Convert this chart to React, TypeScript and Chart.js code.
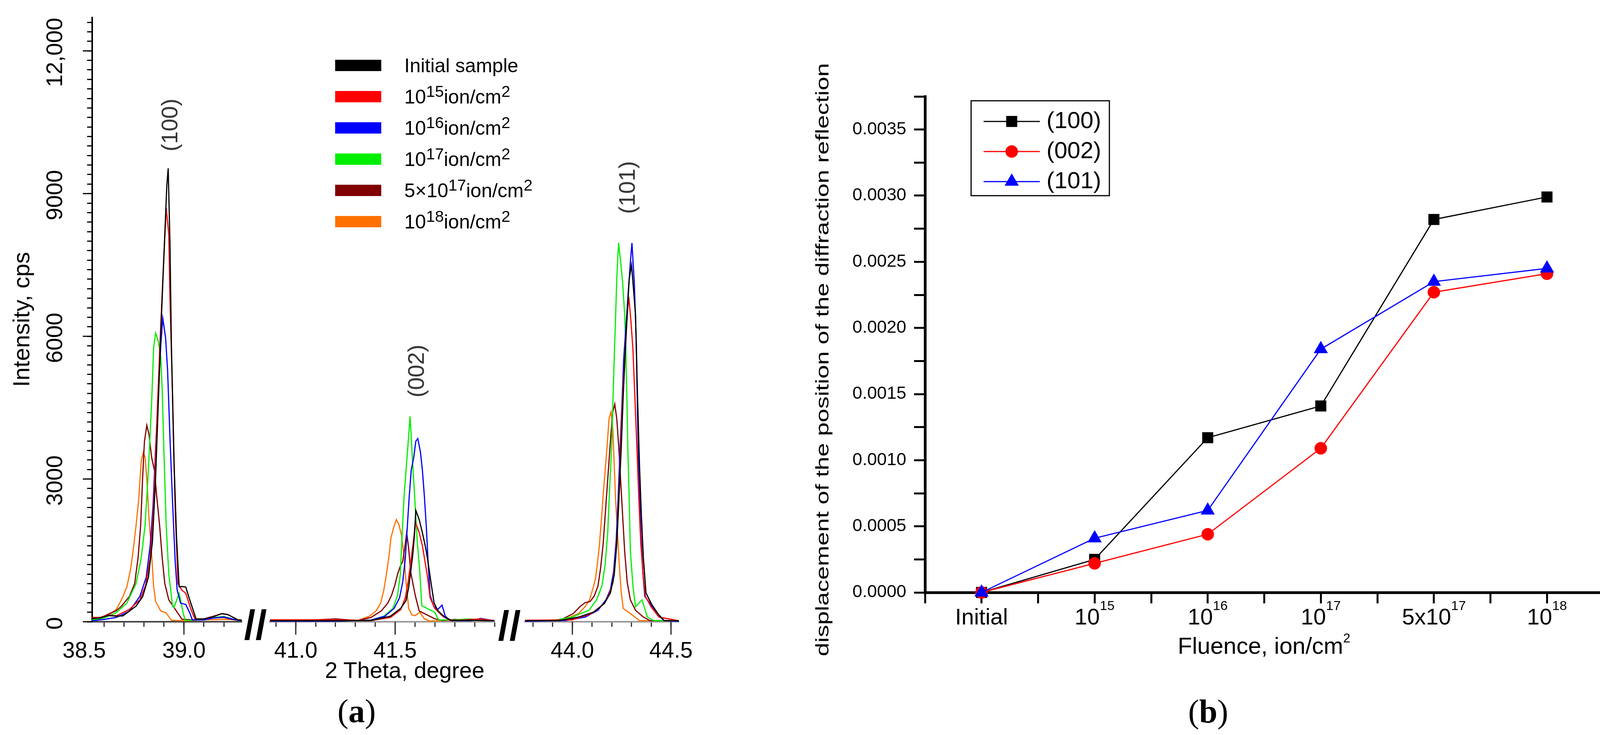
import { useEffect, useRef } from 'react'
import { Chart, registerables } from 'chart.js'
import type { ChartConfiguration, Plugin } from 'chart.js'

Chart.register(...registerables)

const SANS = '"Liberation Sans", Arial, sans-serif'
const SERIF = '"Liberation Serif", "Times New Roman", serif'

// ---------- (a) XRD patterns ----------
const SAMPLES = ['Initial sample', '10^15ion/cm^2', '10^16ion/cm^2', '10^17ion/cm^2', '5×10^17ion/cm^2', '10^18ion/cm^2']
const SAMPLE_COLORS = ['#000000', '#ff0000', '#0000ff', '#00ee00', '#800000', '#ff7000']

type Pt = [number, number]

// (100) reflection, 2θ 38.54 … 39.29
const XRD100_INITIAL: Pt[] = [[38.54, 70], [38.58, 80], [38.62, 130], [38.66, 120], [38.694, 123], [38.76, 328], [38.793, 527], [38.822, 937], [38.842, 1684], [38.858, 3044], [38.875, 5016], [38.888, 6508], [38.904, 8140], [38.914, 9164], [38.921, 9530], [38.93, 7938], [38.937, 5830], [38.95, 3385], [38.963, 1754], [38.976, 733], [38.99, 740], [39.009, 730], [39.029, 461], [39.061, 57], [39.1, 60], [39.15, 110], [39.19, 170], [39.22, 150], [39.27, 40], [39.29, 30]]
const XRD100_F15: Pt[] = [[38.54, 90], [38.58, 90], [38.62, 140], [38.66, 123], [38.726, 257], [38.779, 461], [38.808, 770], [38.831, 1344], [38.848, 2434], [38.864, 4200], [38.881, 5967], [38.897, 7462], [38.911, 8700], [38.924, 8140], [38.93, 6784], [38.943, 4745], [38.956, 2364], [38.97, 800], [38.99, 662], [39.009, 600], [39.035, 262], [39.055, 57], [39.1, 60], [39.15, 120], [39.19, 170], [39.22, 150], [39.27, 40], [39.29, 30]]
const XRD100_F16: Pt[] = [[38.54, 20], [38.6, 50], [38.66, 90], [38.726, 220], [38.779, 533], [38.811, 937], [38.831, 1616], [38.845, 2434], [38.858, 3656], [38.871, 4745], [38.884, 5830], [38.894, 6375], [38.908, 5967], [38.918, 5287], [38.93, 3861], [38.943, 2500], [38.956, 1279], [38.966, 664], [38.983, 393], [39.009, 361], [39.029, 189], [39.042, 40], [39.1, 40], [39.15, 80], [39.2, 100], [39.25, 50], [39.29, 20]]
const XRD100_F17: Pt[] = [[38.54, 40], [38.6, 80], [38.66, 189], [38.714, 393], [38.76, 803], [38.786, 1344], [38.805, 2025], [38.818, 2910], [38.828, 3724], [38.838, 4610], [38.848, 5762], [38.858, 6068], [38.871, 5900], [38.884, 5559], [38.891, 4879], [38.901, 3385], [38.911, 2025], [38.924, 1008], [38.943, 328], [38.95, 300], [38.976, 600], [38.996, 189], [39.006, 30], [39.1, 40], [39.15, 90], [39.2, 110], [39.25, 50], [39.29, 20]]
const XRD100_F5E17: Pt[] = [[38.54, 60], [38.58, 80], [38.62, 160], [38.66, 230], [38.687, 328], [38.727, 533], [38.753, 803], [38.77, 1344], [38.783, 2025], [38.793, 3044], [38.802, 3792], [38.814, 4130], [38.825, 3929], [38.838, 3453], [38.852, 3181], [38.865, 2568], [38.878, 2025], [38.891, 1344], [38.904, 803], [38.924, 461], [38.957, 257], [38.99, 53], [39.05, 40], [39.1, 60], [39.15, 80], [39.2, 90], [39.25, 40], [39.29, 20]]
const XRD100_F18: Pt[] = [[38.54, 40], [38.58, 60], [38.62, 130], [38.66, 257], [38.687, 461], [38.714, 733], [38.734, 1140], [38.747, 1550], [38.76, 2025], [38.773, 2568], [38.786, 3385], [38.796, 3553], [38.806, 3451], [38.816, 2840], [38.825, 2164], [38.835, 1616], [38.848, 733], [38.858, 426], [38.884, 224], [38.91, 189], [38.937, 30], [39.0, 20], [39.1, 40], [39.2, 50], [39.29, 40]]

// (002) reflection, 2θ 40.87 … 42.0
const XRD002_INITIAL: Pt[] = [[40.87, 20], [41.2, 20], [41.378, 25], [41.476, 117], [41.528, 282], [41.555, 447], [41.568, 721], [41.578, 1050], [41.588, 1380], [41.597, 1820], [41.604, 2340], [41.621, 2148], [41.637, 1874], [41.654, 1544], [41.667, 1215], [41.68, 831], [41.696, 392], [41.716, 227], [41.752, 90], [41.785, 25], [41.9, 30], [42.0, 20]]
const XRD002_F15: Pt[] = [[40.87, 40], [41.2, 40], [41.378, 25], [41.476, 90], [41.528, 254], [41.551, 502], [41.565, 831], [41.574, 1105], [41.584, 1435], [41.594, 1764], [41.602, 2093], [41.621, 1874], [41.637, 1599], [41.65, 1270], [41.663, 941], [41.676, 502], [41.699, 282], [41.739, 117], [41.778, 25], [41.85, 40], [41.93, 60], [42.0, 20]]
const XRD002_F16: Pt[] = [[40.87, 10], [41.2, 10], [41.378, 35], [41.449, 117], [41.495, 282], [41.522, 502], [41.538, 831], [41.551, 1328], [41.561, 1984], [41.571, 2643], [41.581, 3190], [41.594, 3467], [41.604, 3795], [41.614, 3850], [41.627, 3575], [41.637, 3190], [41.647, 2643], [41.657, 1984], [41.667, 1160], [41.676, 557], [41.693, 337], [41.713, 254], [41.736, 348], [41.752, 117], [41.778, 25], [41.88, 20], [41.93, 70], [42.0, 20]]
const XRD002_F17: Pt[] = [[40.87, 10], [41.2, 10], [41.378, 35], [41.444, 117], [41.489, 282], [41.512, 557], [41.526, 996], [41.535, 1820], [41.545, 2643], [41.555, 3190], [41.565, 3740], [41.575, 4317], [41.588, 3356], [41.601, 2423], [41.611, 1709], [41.624, 1050], [41.634, 337], [41.673, 254], [41.699, 200], [41.719, 35], [41.8, 40], [41.87, 60], [41.95, 40], [42.0, 20]]
const XRD002_F5E17: Pt[] = [[40.87, 40], [41.1, 40], [41.2, 60], [41.312, 25], [41.378, 90], [41.43, 227], [41.463, 392], [41.482, 557], [41.499, 776], [41.512, 996], [41.525, 1160], [41.538, 1270], [41.548, 1544], [41.558, 1874], [41.568, 1544], [41.578, 1050], [41.588, 831], [41.601, 557], [41.621, 227], [41.66, 145], [41.699, 62], [41.739, 25], [41.8, 50], [41.9, 30], [42.0, 20]]
const XRD002_F18: Pt[] = [[40.87, 30], [41.1, 30], [41.318, 35], [41.371, 117], [41.404, 227], [41.427, 392], [41.443, 666], [41.456, 996], [41.469, 1380], [41.479, 1764], [41.493, 1984], [41.506, 2148], [41.519, 2040], [41.532, 1820], [41.545, 1380], [41.555, 831], [41.568, 282], [41.584, 145], [41.601, 128], [41.624, 200], [41.647, 62], [41.673, 15], [41.8, 30], [42.0, 30]]

// (101) reflection, 2θ 43.76 … 44.54
const XRD101_INITIAL: Pt[] = [[43.76, 20], [43.934, 25], [44.032, 98], [44.11, 205], [44.163, 388], [44.193, 607], [44.212, 976], [44.225, 1631], [44.236, 2584], [44.248, 3682], [44.258, 4780], [44.268, 5657], [44.278, 6463], [44.288, 7197], [44.3, 7500], [44.32, 6463], [44.33, 4780], [44.34, 3316], [44.35, 2219], [44.36, 1339], [44.373, 607], [44.399, 388], [44.433, 172], [44.465, 25], [44.54, 20]]
const XRD101_F15: Pt[] = [[43.76, 30], [43.999, 40], [44.097, 172], [44.163, 388], [44.189, 607], [44.206, 828], [44.219, 1339], [44.229, 2000], [44.239, 2951], [44.248, 4049], [44.258, 5000], [44.268, 5730], [44.278, 6463], [44.286, 6828], [44.297, 6316], [44.307, 5730], [44.317, 4706], [44.327, 3682], [44.337, 2584], [44.347, 1631], [44.36, 902], [44.37, 534], [44.399, 315], [44.439, 98], [44.54, 20]]
const XRD101_F16: Pt[] = [[43.76, 10], [43.966, 25], [44.065, 98], [44.13, 242], [44.17, 461], [44.193, 680], [44.209, 1049], [44.222, 1705], [44.232, 2584], [44.242, 3682], [44.252, 4633], [44.26, 5511], [44.271, 6172], [44.284, 6976], [44.294, 7561], [44.302, 7963], [44.314, 7123], [44.324, 5877], [44.33, 4413], [44.337, 3098], [44.347, 1852], [44.357, 1049], [44.367, 534], [44.393, 388], [44.426, 172], [44.465, 25], [44.54, 10]]
const XRD101_F17: Pt[] = [[43.76, 20], [43.9, 25], [43.999, 98], [44.084, 242], [44.123, 461], [44.15, 754], [44.166, 1193], [44.179, 1852], [44.189, 2803], [44.199, 3682], [44.205, 4560], [44.212, 5511], [44.219, 6390], [44.225, 7197], [44.234, 7963], [44.245, 7561], [44.255, 7123], [44.265, 6463], [44.271, 5730], [44.276, 4780], [44.281, 3682], [44.288, 2584], [44.294, 1486], [44.307, 754], [44.32, 315], [44.353, 461], [44.38, 98], [44.412, 25], [44.54, 20]]
const XRD101_F5E17: Pt[] = [[43.76, 20], [43.934, 25], [44.005, 172], [44.038, 315], [44.064, 400], [44.09, 426], [44.11, 534], [44.13, 754], [44.143, 1123], [44.156, 1631], [44.166, 2219], [44.176, 2803], [44.186, 3389], [44.196, 3975], [44.205, 4413], [44.215, 4574], [44.225, 4271], [44.235, 3682], [44.245, 2951], [44.255, 2219], [44.265, 1486], [44.278, 828], [44.294, 461], [44.32, 242], [44.36, 98], [44.393, 25], [44.54, 20]]
const XRD101_F18: Pt[] = [[43.76, 25], [43.87, 25], [43.966, 60], [44.032, 172], [44.064, 315], [44.087, 461], [44.103, 680], [44.117, 902], [44.126, 1193], [44.136, 1559], [44.146, 2073], [44.156, 2656], [44.166, 3172], [44.176, 3682], [44.186, 4271], [44.196, 4413], [44.205, 4049], [44.212, 3316], [44.219, 2584], [44.229, 1852], [44.239, 1123], [44.248, 607], [44.258, 279], [44.294, 172], [44.34, 25], [44.54, 20]]

const XRD100 = [XRD100_INITIAL, XRD100_F15, XRD100_F16, XRD100_F17, XRD100_F5E17, XRD100_F18]
const XRD002 = [XRD002_INITIAL, XRD002_F15, XRD002_F16, XRD002_F17, XRD002_F5E17, XRD002_F18]
const XRD101 = [XRD101_INITIAL, XRD101_F15, XRD101_F16, XRD101_F17, XRD101_F5E17, XRD101_F18]

const SEGMENT_RANGES: [number, number][] = [[38.54, 39.29], [40.87, 42.0], [43.76, 44.54]]
const SEGMENT_TICK_LABELS = [[38.5, 39.0], [41.0, 41.5], [44.0, 44.5]]
const SEGMENT_DATA = [XRD100, XRD002, XRD101]
const INTENSITY_TICKS = [0, 3000, 6000, 9000, 12000]
const INTENSITY_TICK_TEXT = ['0', '3000', '6000', '9000', '12,000']

// ---------- (b) peak shift vs fluence ----------
const FLUENCE = ['Initial', '10^15', '10^16', '10^17', '5x10^17', '10^18']
const SHIFT_100 = [0, 0.00025, 0.00117, 0.00141, 0.00282, 0.00299]
const SHIFT_002 = [0, 0.00022, 0.00044, 0.00109, 0.00227, 0.00241]
const SHIFT_101 = [0, 0.00041, 0.00062, 0.00184, 0.00235, 0.00245]

// canvas boxes (page px)
const SEGMENT_BOXES = [
  { left: 0, width: 640, padL: 0, padR: 21 },
  { left: 660, width: 640, padL: 31, padR: 34 },
  { left: 1310, width: 520, padL: 34, padR: 92 },
]

function xrdText(seg: number): Plugin {
  return {
    id: 'xrdText' + seg,
    afterDraw(chart) {
      const { ctx, chartArea: a } = chart
      const xs = chart.scales.x
      ctx.save()
      ctx.fillStyle = '#000'
      ctx.strokeStyle = '#222'
      ctx.lineWidth = 3
      ctx.font = `57px ${SANS}`
      ctx.textAlign = 'center'
      ctx.textBaseline = 'middle'
      for (const v of SEGMENT_TICK_LABELS[seg]) {
        const px = xs.getPixelForValue(v)
        if (px >= a.left && px <= a.right + 1) {
          ctx.beginPath()
          ctx.moveTo(px, a.bottom)
          ctx.lineTo(px, a.bottom + 33)
          ctx.stroke()
        }
        ctx.fillText(v.toFixed(1), px, a.bottom + 76)
      }
      if (seg === 0) {
        const ys = chart.scales.y
        ctx.strokeStyle = '#000'
        ctx.font = `58px ${SANS}`
        INTENSITY_TICKS.forEach((v, i) => {
          const py = ys.getPixelForValue(v)
          ctx.beginPath()
          ctx.moveTo(a.left, py)
          ctx.lineTo(a.left - 24, py)
          ctx.stroke()
          ctx.save()
          ctx.translate(143, py + 4)
          ctx.rotate(-Math.PI / 2)
          ctx.fillText(INTENSITY_TICK_TEXT[i], 0, 0)
          ctx.restore()
        })
      }
      ctx.restore()
    },
  }
}

function xrdConfig(seg: number): ChartConfiguration {
  const [min, max] = SEGMENT_RANGES[seg]
  const box = SEGMENT_BOXES[seg]
  return {
    type: 'line',
    data: {
      datasets: SEGMENT_DATA[seg].map((pts, i) => ({
        label: SAMPLES[i],
        data: pts.map(([x, y]) => ({ x, y })),
        borderColor: SAMPLE_COLORS[i],
        borderWidth: 3,
        pointRadius: 0,
        fill: false,
        tension: 0,
      })),
    },
    options: {
      animation: false,
      responsive: true,
      maintainAspectRatio: false,
      events: [],
      layout: { padding: { top: 45, left: box.padL, right: box.padR, bottom: 0 } },
      plugins: { legend: { display: false }, tooltip: { enabled: false } },
      scales: {
        x: {
          type: 'linear',
          min,
          max,
          afterFit: (s: any) => {
            s.height = 168
          },
          border: { color: seg === 0 ? '#444' : '#999', width: 4 },
          grid: { drawOnChartArea: false, tickLength: 13, tickWidth: 3, tickColor: '#333' },
          ticks: { stepSize: 0.1, autoSkip: false, includeBounds: false, maxRotation: 0, callback: () => '' },
        },
        y: {
          display: seg === 0,
          min: 0,
          max: 12700,
          afterFit: (s: any) => {
            s.width = seg === 0 ? 236 : 0
          },
          border: { color: '#000', width: 4 },
          grid: { drawOnChartArea: false, tickLength: 13, tickWidth: 3, tickColor: '#000' },
          ticks: { stepSize: 200, autoSkip: false, includeBounds: false, callback: () => '' },
        },
      },
    },
    plugins: [xrdText(seg)],
  }
}

function drawMarker(ctx: CanvasRenderingContext2D, style: string, x: number, y: number, r: number) {
  ctx.beginPath()
  if (style === 'rect') {
    const s = r * Math.SQRT1_2
    ctx.rect(x - s, y - s, 2 * s, 2 * s)
  } else if (style === 'triangle') {
    let rad = 0
    ctx.moveTo(x + Math.sin(rad) * r, y - Math.cos(rad) * r)
    rad += (2 * Math.PI) / 3
    ctx.lineTo(x + Math.sin(rad) * r, y - Math.cos(rad) * r)
    rad += (2 * Math.PI) / 3
    ctx.lineTo(x + Math.sin(rad) * r, y - Math.cos(rad) * r)
    ctx.closePath()
  } else {
    ctx.arc(x, y, r, 0, Math.PI * 2)
  }
  ctx.fill()
}

const fluenceDecor: Plugin = {
  id: 'fluenceDecor',
  afterDraw(chart) {
    const { ctx, chartArea: a } = chart
    const xs = chart.scales.x
    ctx.save()
    ctx.fillStyle = '#000'
    ctx.textAlign = 'left'
    ctx.textBaseline = 'alphabetic'
    FLUENCE.forEach((lab, i) => {
      const [base, sup] = lab.split('^')
      ctx.font = `58px ${SANS}`
      const wb = ctx.measureText(base).width
      ctx.font = `34px ${SANS}`
      const ws = sup ? ctx.measureText(sup).width : 0
      const left = xs.getPixelForValue(i) - (wb + ws) / 2
      ctx.font = `58px ${SANS}`
      ctx.fillText(base, left, a.bottom + 82)
      if (sup) {
        ctx.font = `34px ${SANS}`
        ctx.fillText(sup, left + wb, a.bottom + 45)
      }
    })

    // boxed legend, line + marker + label
    ctx.lineWidth = 3
    ctx.strokeStyle = '#000'
    ctx.strokeRect(a.left + 118, a.top + 11, 354, 243)
    ctx.font = `60px ${SANS}`
    ctx.textBaseline = 'middle'
    chart.data.datasets.forEach((ds: any, i) => {
      const y = a.top + 64 + i * 77
      ctx.strokeStyle = ds.borderColor
      ctx.beginPath()
      ctx.moveTo(a.left + 150, y)
      ctx.lineTo(a.left + 294, y)
      ctx.stroke()
      ctx.fillStyle = ds.borderColor
      drawMarker(ctx, ds.pointStyle, a.left + 222, y, ds.pointRadius)
      ctx.fillStyle = '#000'
      ctx.fillText(ds.label, a.left + 311, y)
    })
    ctx.restore()
  },
}

function shiftSeries(label: string, values: number[], color: string, pointStyle: string, radius: number, order: number) {
  return {
    label,
    data: values.map((y, i) => ({ x: i, y })),
    borderColor: color,
    backgroundColor: color,
    pointBackgroundColor: color,
    pointBorderColor: color,
    pointBorderWidth: 0,
    pointStyle,
    pointRadius: radius,
    borderWidth: 3,
    tension: 0,
    clip: false,
    order,
  }
}

function fluenceConfig(): ChartConfiguration {
  return {
    type: 'line',
    data: {
      datasets: [
        shiftSeries('(100)', SHIFT_100, '#000000', 'rect', 20, 3),
        shiftSeries('(002)', SHIFT_002, '#ff0000', 'circle', 16, 2),
        shiftSeries('(101)', SHIFT_101, '#0000ff', 'triangle', 21, 1),
      ] as any,
    },
    options: {
      animation: false,
      responsive: true,
      maintainAspectRatio: false,
      events: [],
      layout: { padding: { top: 38, right: 23, left: 0, bottom: 0 } },
      plugins: { legend: { display: false }, tooltip: { enabled: false } },
      scales: {
        x: {
          type: 'linear',
          min: -0.5,
          max: 5.5,
          afterFit: (s: any) => {
            s.height = 183
          },
          border: { color: '#000', width: 7 },
          grid: { drawOnChartArea: false, tickLength: 28, tickWidth: 5, tickColor: '#000' },
          ticks: { stepSize: 0.5, autoSkip: false, maxRotation: 0, callback: () => '' },
        },
        y: {
          min: 0,
          max: 0.00375,
          afterFit: (s: any) => {
            s.width = 218
          },
          border: { color: '#000', width: 7 },
          grid: { drawOnChartArea: false, tickLength: 28, tickWidth: 5, tickColor: '#000' },
          ticks: {
            stepSize: 0.00025,
            autoSkip: false,
            padding: 20,
            color: '#000',
            font: { family: SANS, size: 45 },
            callback: (v: any) => {
              const k = Number(v) / 0.0005
              return Math.abs(k - Math.round(k)) < 1e-6 ? Number(v).toFixed(4) : ''
            },
          },
        },
      },
    },
    plugins: [fluenceDecor],
  }
}

function ChartBox({ left, top, width, height, make }: { left: number; top: number; width: number; height: number; make: () => ChartConfiguration }) {
  const ref = useRef<HTMLCanvasElement>(null)
  useEffect(() => {
    const canvas = ref.current
    if (!canvas) return
    const chart = new Chart(canvas, make())
    return () => chart.destroy()
    // eslint-disable-next-line react-hooks/exhaustive-deps
  }, [])
  return (
    <div style={{ position: 'absolute', left, top, width, height }}>
      <canvas ref={ref} />
    </div>
  )
}

function Sup({ text, size = '0.82em', raise = '-0.42em' }: { text: string; size?: string; raise?: string }) {
  const parts = text.split(/\^(\d+)/)
  return (
    <>
      {parts.map((p, i) =>
        i % 2 ? (
          <span key={i} style={{ fontSize: size, position: 'relative', top: raise }}>
            {p}
          </span>
        ) : (
          <span key={i}>{p}</span>
        ),
      )}
    </>
  )
}

function Txt({ x, y, size, rotate = 0, scaleX = 1, family = SANS, color = '#000', weight = 400, children }: any) {
  return (
    <div
      style={{
        position: 'absolute',
        left: x,
        top: y,
        transform: `translate(-50%, -50%) rotate(${rotate}deg) scaleX(${scaleX})`,
        fontFamily: family,
        fontSize: size,
        fontWeight: weight,
        color,
        lineHeight: 1,
        whiteSpace: 'nowrap',
      }}
    >
      {children}
    </div>
  )
}

const LEGEND_ROWS_Y = [168, 248, 328, 408, 488, 568]

export default function App() {
  return (
    <div style={{ position: 'fixed', left: 0, top: 0, width: 4128, height: 1882, background: '#fff', overflow: 'hidden' }}>
      {SEGMENT_BOXES.map((b, seg) => (
        <ChartBox key={seg} left={b.left} top={0} width={b.width} height={1760} make={() => xrdConfig(seg)} />
      ))}

      <Txt x={55} y={818} size={60} rotate={-90}>Intensity, cps</Txt>
      <Txt x={1036} y={1716} size={58}>2 Theta, degree</Txt>
      <Txt x={654} y={1600} size={105} weight={700}>//</Txt>
      <Txt x={1304} y={1602} size={105} weight={700}>//</Txt>
      <Txt x={434} y={320} size={58} rotate={-90} color="#333">(100)</Txt>
      <Txt x={1065} y={950} size={58} rotate={-90} color="#333">(002)</Txt>
      <Txt x={1605} y={480} size={58} rotate={-90} color="#333">(101)</Txt>

      {SAMPLES.map((s, i) => (
        <div key={s}>
          <div style={{ position: 'absolute', left: 858, top: LEGEND_ROWS_Y[i] - 15, width: 118, height: 29, background: SAMPLE_COLORS[i] }} />
          <div
            style={{
              position: 'absolute',
              left: 1035,
              top: LEGEND_ROWS_Y[i],
              transform: 'translateY(-50%)',
              fontFamily: SANS,
              fontSize: 50,
              lineHeight: 1,
              whiteSpace: 'nowrap',
              color: '#000',
            }}
          >
            <Sup text={s} />
          </div>
        </div>
      ))}

      <Txt x={913} y={1821} size={84} family={SERIF}>
        (<b>a</b>)
      </Txt>

      <ChartBox left={2150} top={200} width={1978} height={1500} make={fluenceConfig} />

      <Txt x={2105} y={921} size={46} rotate={-90} scaleX={1.37}>
        displacement of the position of the diffraction reflection
      </Txt>
      <Txt x={3236} y={1654} size={60}>
        <Sup text="Fluence, ion/cm^2" size="0.55em" raise="-0.88em" />
      </Txt>
      <Txt x={3093} y={1822} size={84} family={SERIF}>
        (<b>b</b>)
      </Txt>
    </div>
  )
}
